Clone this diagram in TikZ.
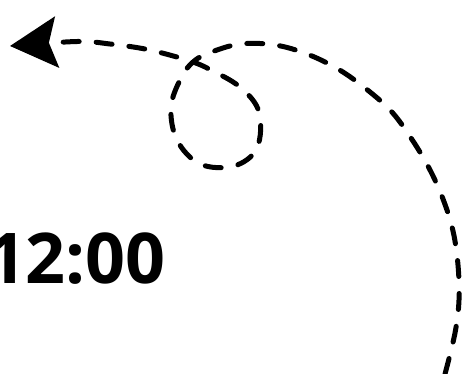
\documentclass[tikz,border=0pt]{standalone}
\usepackage{fontspec}
\setmainfont{Open Sans}
\usetikzlibrary{arrows.meta}
\tikzset{
  loopline/.style={line width=5pt, line cap=round, dash pattern=on 16pt off 17pt,
    -{Stealth[length=47pt,width=51pt,inset=8pt]}},
  timelabel/.style={anchor=base east, inner sep=0pt, font=\bfseries\fontsize{70}{84}\selectfont}
}
\begin{document}
\begin{tikzpicture}[x=1pt,y=-1pt]
\useasboundingbox (0,0) rectangle (465,373);
\node[timelabel] (time) at (166,283) {12:00};
\draw[loopline] plot[smooth, tension=0.6] coordinates {
 (445,374) (455,333) (459,300) (458,265) (453,231) (443,199) (429,168) (411,138)
 (391,111) (365,88) (338,69) (307,54) (275,45) (240,44) (209,53) (193,62)
 (181,78) (171,107) (177,140) (200,164) (234,166) (257,148) (259,112) (240,87)
 (209,69) (193,62) (177,57) (145,49) (110,44) (77,41.5) (10,46)};
\end{tikzpicture}
\end{document}
